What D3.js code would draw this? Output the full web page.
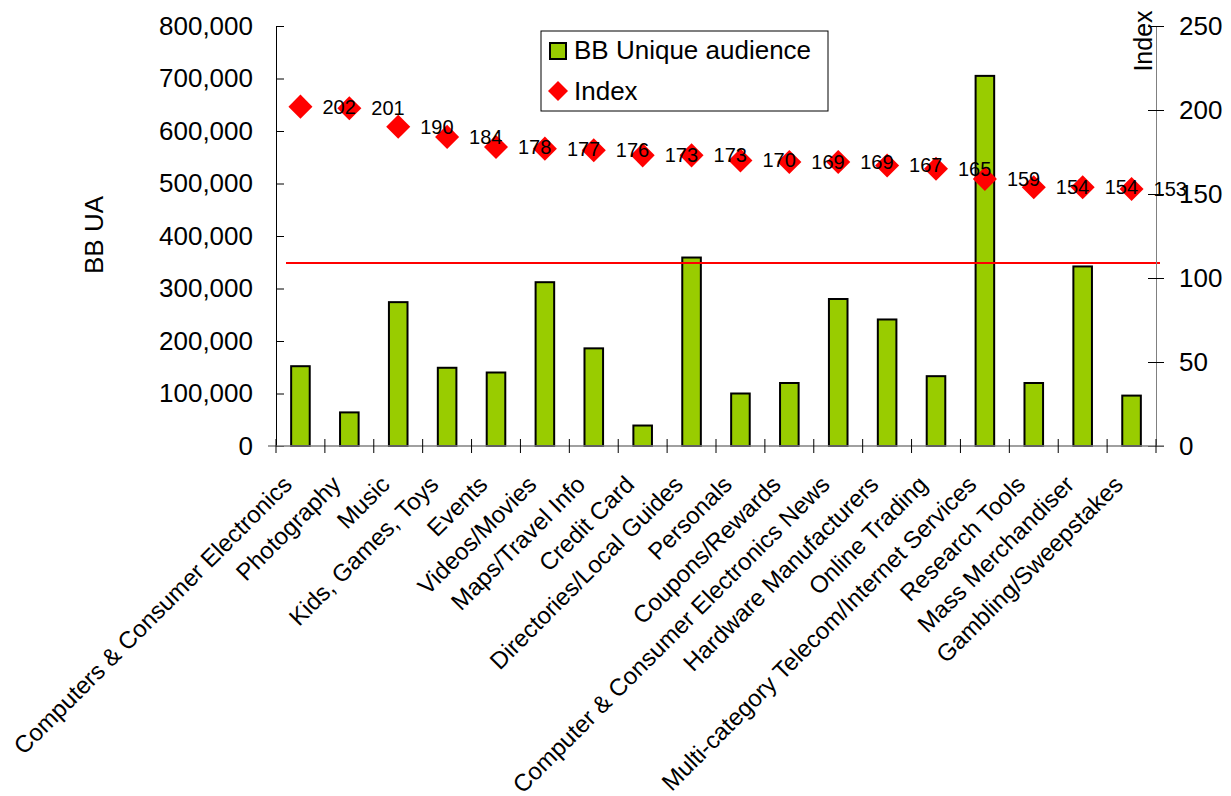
<!DOCTYPE html>
<html>
<head>
<meta charset="utf-8">
<script src="https://cdn.jsdelivr.net/npm/d3@7"></script>
<style>
  body { margin: 0; background: #fff; }
  svg { font-family: "Liberation Sans", Arial, sans-serif; }
</style>
</head>
<body>
<div id="chart"></div>
<script>
// values
const categories = [
  "Computers & Consumer Electronics", "Photography", "Music", "Kids, Games, Toys",
  "Events", "Videos/Movies", "Maps/Travel Info", "Credit Card", "Directories/Local Guides",
  "Personals", "Coupons/Rewards", "Computer & Consumer Electronics News",
  "Hardware Manufacturers", "Online Trading", "Multi-category Telecom/Internet Services",
  "Research Tools", "Mass Merchandiser", "Gambling/Sweepstakes"
]
const audience = [152000, 64000, 274000, 149000, 140000, 312000, 186000, 39000, 359000,
  100000, 120000, 280000, 241000, 133000, 705000, 120000, 342000, 96000]
const indexValues = [202, 201, 190, 184, 178, 177, 176, 173, 173, 170, 169, 169, 167, 165, 159, 154, 154, 153]
const referenceIndex = 109
const leftTicks = [0, 100000, 200000, 300000, 400000, 500000, 600000, 700000, 800000]
const rightTicks = [0, 50, 100, 150, 200, 250]

const width = 1231, height = 796
const margin = { top: 26, right: 75, bottom: 350, left: 276 }
const innerW = width - margin.left - margin.right
const innerH = height - margin.top - margin.bottom

const svg = d3.select("#chart").append("svg")
  .attr("width", width)
  .attr("height", height)

const x = d3.scaleBand()
  .domain(categories)
  .range([margin.left, margin.left + innerW])
  .paddingInner(0.62)
  .paddingOuter(0.31)

const yLeft = d3.scaleLinear().domain([0, 800000]).range([margin.top + innerH, margin.top])
const yRight = d3.scaleLinear().domain([0, 250]).range([margin.top + innerH, margin.top])

const bottomY = margin.top + innerH

// bars
svg.append("g").selectAll("rect")
  .data(audience)
  .join("rect")
  .attr("x", (d, i) => x(categories[i]))
  .attr("y", d => yLeft(d))
  .attr("width", x.bandwidth())
  .attr("height", d => bottomY - yLeft(d))
  .attr("fill", "#99cc00")
  .attr("stroke", "#000")
  .attr("stroke-width", 2)

// reference line on the index axis
svg.append("line")
  .attr("x1", margin.left + 10)
  .attr("x2", margin.left + innerW + 4)
  .attr("y1", yRight(referenceIndex))
  .attr("y2", yRight(referenceIndex))
  .attr("stroke", "#ff0000")
  .attr("stroke-width", 2)

// axes
const leftAxis = svg.append("g")
  .attr("transform", `translate(${margin.left},0)`)
  .call(d3.axisLeft(yLeft).tickValues(leftTicks).tickFormat(d3.format(",")).tickSizeInner(8).tickSizeOuter(0).tickPadding(15))
leftAxis.selectAll(".tick line").attr("x2", 8)

const rightAxis = svg.append("g")
  .attr("transform", `translate(${margin.left + innerW},0)`)
  .call(d3.axisRight(yRight).tickValues(rightTicks).tickSizeInner(8).tickSizeOuter(0).tickPadding(15))
rightAxis.selectAll(".tick line").attr("x1", -8)

const bottomAxis = svg.append("g")
  .attr("transform", `translate(0,${bottomY})`)
bottomAxis.append("line")
  .attr("x1", margin.left - 8).attr("x2", margin.left + innerW + 8)
  .attr("stroke", "#808080").attr("stroke-width", 1.5)
const step = x.step()
bottomAxis.selectAll(".cat-tick")
  .data(d3.range(categories.length + 1))
  .join("line")
  .attr("class", "cat-tick")
  .attr("x1", i => margin.left + i * step)
  .attr("x2", i => margin.left + i * step)
  .attr("y1", -7).attr("y2", 7)
  .attr("stroke", "#000").attr("stroke-width", 1)

for (const ax of [leftAxis, rightAxis]) {
  ax.select(".domain").attr("stroke", "#000").attr("stroke-width", 1)
  ax.selectAll(".tick line").attr("stroke", "#000")
  ax.selectAll("text").attr("font-size", "26px").attr("fill", "#000")
    .attr("font-family", "Liberation Sans, Arial, sans-serif")
}
rightAxis.select(".domain").attr("stroke", "#808080")

// category labels, rotated
svg.append("g").selectAll("text")
  .data(categories)
  .join("text")
  .attr("transform", d => `translate(${x(d) + x.bandwidth() / 2 - 7},${bottomY + 40}) rotate(-45)`)
  .attr("text-anchor", "end")
  .attr("font-size", "24px")
  .attr("fill", "#000")
  .text(d => d)

// index markers
const diamond = d3.symbol(d3.symbolSquare, 289)
svg.append("g").selectAll("path")
  .data(indexValues)
  .join("path")
  .attr("d", diamond)
  .attr("transform", (d, i) => `translate(${x(categories[i]) + x.bandwidth() / 2},${yRight(d)}) rotate(45)`)
  .attr("fill", "#ff0000")

svg.append("g").selectAll("text")
  .data(indexValues)
  .join("text")
  .attr("x", (d, i) => x(categories[i]) + x.bandwidth() / 2 + 22)
  .attr("y", d => yRight(d) + 7)
  .attr("font-size", "20px")
  .attr("fill", "#000")
  .text(d => d)

// axis titles
svg.append("text")
  .attr("transform", "translate(103,235) rotate(-90)")
  .attr("text-anchor", "middle")
  .attr("font-size", "26px")
  .text("BB UA")

svg.append("text")
  .attr("transform", "translate(1152,41) rotate(-90)")
  .attr("text-anchor", "middle")
  .attr("font-size", "25px")
  .text("Index")

// legend
const legend = svg.append("g")
legend.append("rect")
  .attr("x", 541).attr("y", 31).attr("width", 287).attr("height", 80)
  .attr("fill", "#fff").attr("stroke", "#000").attr("stroke-width", 1)
legend.append("rect")
  .attr("x", 550).attr("y", 43).attr("width", 16).attr("height", 16)
  .attr("fill", "#99cc00").attr("stroke", "#000").attr("stroke-width", 2)
legend.append("text")
  .attr("x", 574).attr("y", 59).attr("font-size", "26px").text("BB Unique audience")
legend.append("path")
  .attr("d", d3.symbol(d3.symbolSquare, 200))
  .attr("transform", "translate(558,91) rotate(45)")
  .attr("fill", "#ff0000")
legend.append("text")
  .attr("x", 574).attr("y", 100).attr("font-size", "26px").text("Index")
</script>
</body>
</html>
